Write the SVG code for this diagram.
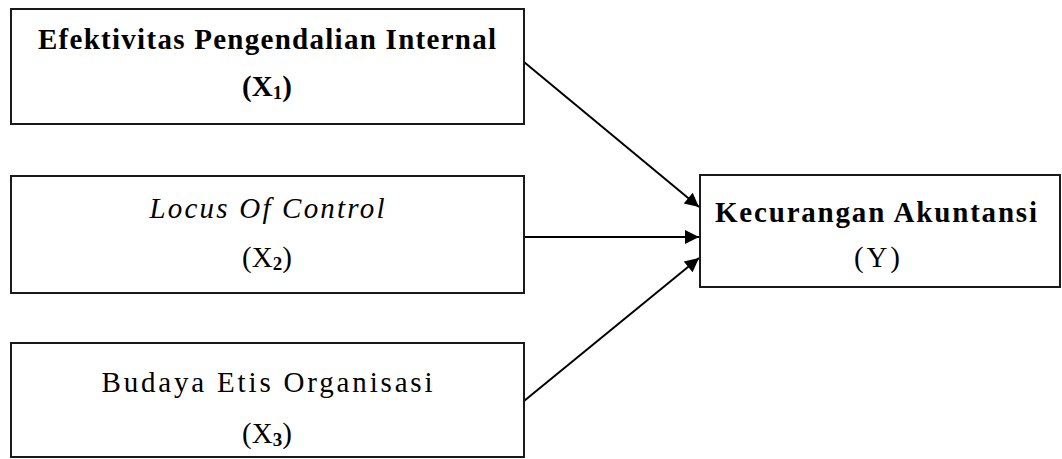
<svg xmlns="http://www.w3.org/2000/svg" width="1062" height="459" viewBox="0 0 1062 459">
<defs>
<style>
.box{fill:#fff;stroke:#1a1a1a;stroke-width:2}
.t{font-family:"Liberation Serif","Times New Roman",serif;font-size:29px;fill:#000;text-anchor:middle}
.b{font-weight:bold}
.i{font-style:italic}
.sub{font-size:19px;font-weight:bold}
.conn{stroke:#000;stroke-width:2;fill:none;marker-end:url(#arr)}
</style>
<marker id="arr" viewBox="0 0 10 10" refX="10" refY="5" markerWidth="9" markerHeight="7" markerUnits="strokeWidth" orient="auto">
<path d="M0,0 L10,5 L0,10 Z" fill="#000"/>
</marker>
</defs>
<rect width="1062" height="459" fill="#fff"/>
<g id="connectors">
<line class="conn" x1="524" y1="62" x2="699" y2="207"/>
<line class="conn" x1="524" y1="237" x2="699" y2="237"/>
<line class="conn" x1="524" y1="401" x2="699" y2="258"/>
</g>
<g id="x1">
<rect class="box" x="11" y="9" width="513" height="115"/>
<text class="t b" x="267" y="49" textLength="458" lengthAdjust="spacing">Efektivitas Pengendalian Internal</text>
<text class="t b" x="267" y="96">(X<tspan class="sub" dy="3">1</tspan><tspan dy="-3">)</tspan></text>
</g>
<g id="x2">
<rect class="box" x="11" y="176" width="513" height="117"/>
<text class="t i" x="267" y="218" textLength="235" lengthAdjust="spacing">Locus Of Control</text>
<text class="t" x="267" y="267">(X<tspan class="sub" dy="3">2</tspan><tspan dy="-3">)</tspan></text>
</g>
<g id="x3">
<rect class="box" x="11" y="343" width="513" height="114"/>
<text class="t" x="267" y="392" textLength="331" lengthAdjust="spacing">Budaya Etis Organisasi</text>
<text class="t" x="267" y="443">(X<tspan class="sub" dy="3">3</tspan><tspan dy="-3">)</tspan></text>
</g>
<g id="y">
<rect class="box" x="700" y="175" width="360" height="112"/>
<text class="t b" x="876" y="222" textLength="322" lengthAdjust="spacing">Kecurangan Akuntansi</text>
<text class="t" x="877" y="267" textLength="46" lengthAdjust="spacing">(Y)</text>
</g>
</svg>
